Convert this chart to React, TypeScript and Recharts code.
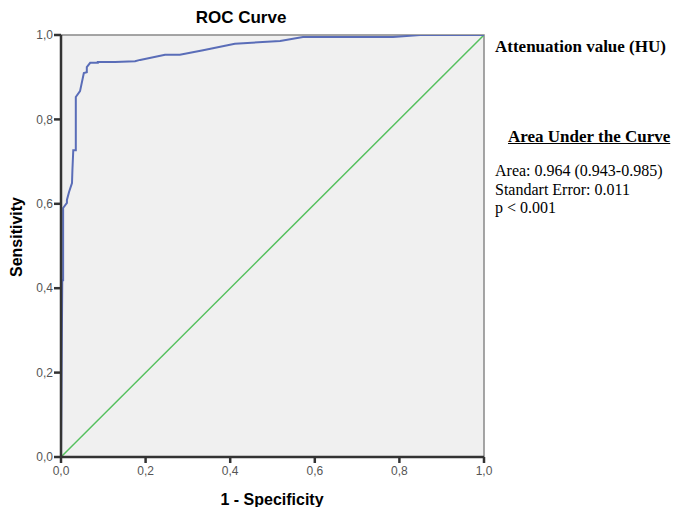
import { LineChart, Line, XAxis, YAxis, ReferenceArea } from 'recharts';

// ROC curve points: false positive rate (1 - specificity) vs sensitivity
const fpr = [0, 0.003, 0.005, 0.005, 0.014, 0.014, 0.019, 0.026, 0.027, 0.029, 0.035, 0.035, 0.045, 0.054, 0.061, 0.061, 0.069, 0.087, 0.087, 0.128, 0.175, 0.187, 0.246, 0.281, 0.336, 0.411, 0.518, 0.572, 0.785, 0.849, 1];
const sensitivity = [0, 0.419, 0.419, 0.59, 0.602, 0.609, 0.628, 0.649, 0.68, 0.727, 0.727, 0.853, 0.867, 0.91, 0.912, 0.924, 0.934, 0.934, 0.936, 0.936, 0.938, 0.941, 0.953, 0.953, 0.964, 0.979, 0.986, 0.995, 0.995, 1, 1];

const refX = [0, 1];
const refY = [0, 1];

const ticks = [0, 0.2, 0.4, 0.6, 0.8, 1];

const rocData = fpr.map((x, i) => ({ x, y: sensitivity[i] }));
const diagData = refX.map((x, i) => ({ x, y: refY[i] }));

const fmt = (v: number) => v.toFixed(1).replace('.', ',');

const sans = '"Liberation Sans", Arial, sans-serif';
const serif = '"Liberation Serif", "Times New Roman", serif';

export default function App() {
  return (
    <div style={{ position: 'absolute', left: 0, top: 0, width: 673, height: 507, background: '#fff', overflow: 'hidden' }}>
      <LineChart width={673} height={507} margin={{ top: 35, right: 189, left: 0, bottom: 0 }}>
        <ReferenceArea x1={0} x2={1} y1={0} y2={1} fill="#f0f0f0" fillOpacity={1} stroke="#888" strokeWidth={1.5} />
        <XAxis
          type="number"
          dataKey="x"
          domain={[0, 1]}
          ticks={ticks}
          tickFormatter={fmt}
          height={50}
          stroke="#333"
          strokeWidth={2.5}
          tickSize={6}
          tickMargin={3}
          tick={{ fill: '#555', fontSize: 12, fontFamily: sans }}
          allowDataOverflow
        />
        <YAxis
          type="number"
          dataKey="y"
          domain={[0, 1]}
          ticks={ticks}
          tickFormatter={fmt}
          width={61}
          stroke="#333"
          strokeWidth={2.5}
          tickSize={7}
          tickMargin={1}
          tick={{ fill: '#555', fontSize: 12, fontFamily: sans }}
          allowDataOverflow
        />
        <Line data={diagData} dataKey="y" type="linear" stroke="#55c05e" strokeWidth={1.5} dot={false} isAnimationActive={false} />
        <Line data={rocData} dataKey="y" type="linear" stroke="#5a6db8" strokeWidth={2} dot={false} isAnimationActive={false} />
      </LineChart>

      <div style={{ position: 'absolute', left: 191, top: 8, width: 100, textAlign: 'center', fontFamily: sans, fontWeight: 'bold', fontSize: 17, whiteSpace: 'nowrap' }}>
        ROC Curve
      </div>
      <div style={{ position: 'absolute', left: 172, top: 491, width: 200, textAlign: 'center', fontFamily: sans, fontWeight: 'bold', fontSize: 16, whiteSpace: 'nowrap' }}>
        1 - Specificity
      </div>
      <div style={{ position: 'absolute', left: 17, top: 237, transform: 'translate(-50%, -50%) rotate(-90deg)', fontFamily: sans, fontWeight: 'bold', fontSize: 16, whiteSpace: 'nowrap' }}>
        Sensitivity
      </div>

      <div style={{ position: 'absolute', left: 495, top: 37, fontFamily: serif, fontWeight: 'bold', fontSize: 17, whiteSpace: 'nowrap' }}>
        Attenuation value (HU)
      </div>
      <div style={{ position: 'absolute', left: 508, top: 127, fontFamily: serif, fontWeight: 'bold', fontSize: 17, textDecoration: 'underline', whiteSpace: 'nowrap' }}>
        Area Under the Curve
      </div>
      <div style={{ position: 'absolute', left: 495, top: 162, fontFamily: serif, fontSize: 16, lineHeight: '18.5px', whiteSpace: 'nowrap' }}>
        <div>Area: 0.964 (0.943-0.985)</div>
        <div>Standart Error: 0.011</div>
        <div>p &lt; 0.001</div>
      </div>
    </div>
  );
}
